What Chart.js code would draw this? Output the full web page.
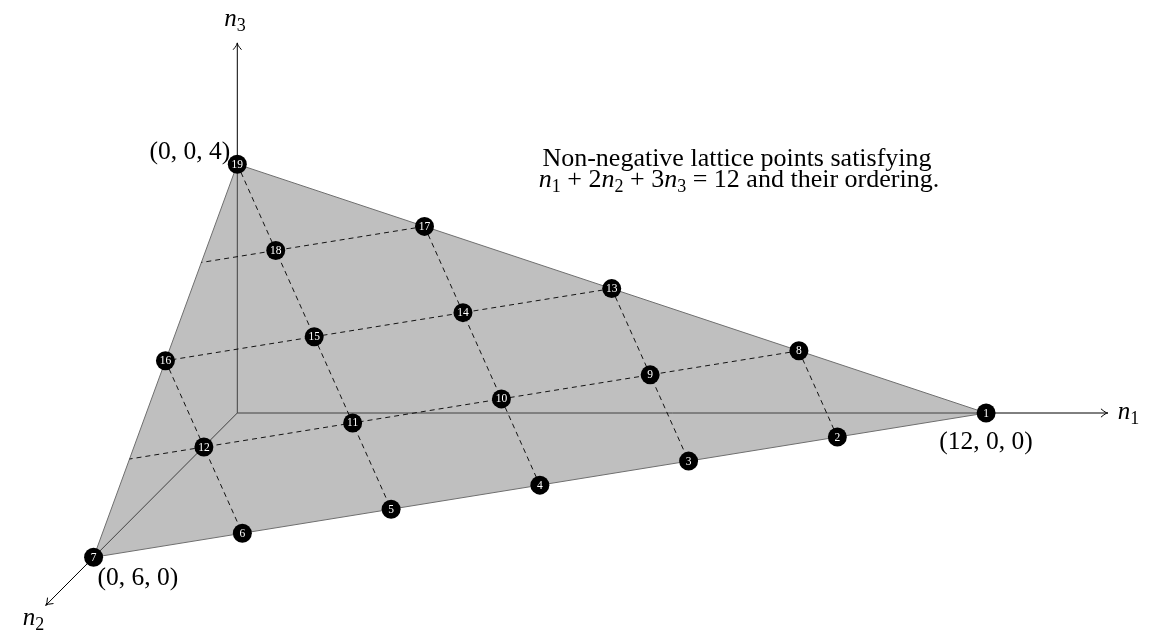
<!DOCTYPE html>
<html><head><meta charset="utf-8">
<script src="https://cdn.jsdelivr.net/npm/chart.js@4.4.1/dist/chart.umd.min.js"></script>
<style>html,body{margin:0;padding:0;background:#fff}#wrap{width:1149px;height:633px;position:relative}</style>
</head><body><div id="wrap"><canvas id="c"></canvas></div>
<script>
// Lattice points (n1, n2, n3) with n1 + 2n2 + 3n3 = 12, in their ordering
const orderLabels = [1,2,3,4,5,6,7,8,9,10,11,12,13,14,15,16,17,18,19];
const n1 = [12,10,8,6,4,2,0, 9,7,5,3,1, 6,4,2,0, 3,1, 0];
const n2 = [ 0, 1,2,3,4,5,6, 0,1,2,3,4, 0,1,2,3, 0,1, 0];
const n3 = [ 0, 0,0,0,0,0,0, 1,1,1,1,1, 2,2,2,2, 3,3, 4];
// Triangle vertices (plane cut by the positive octant)
const vertices = [[12,0,0],[0,6,0],[0,0,4]];
const vertexLabels = ['(12, 0, 0)','(0, 6, 0)','(0, 0, 4)'];
// Dashed level lines n3 = const (from n2 = 0 edge to n1 = 0 edge)
const levelLines = [[[9,0,1],[0,4.5,1]],[[6,0,2],[0,3,2]],[[3,0,3],[0,1.5,3]]];
// Dashed lines n1 - n2 = const, as pairs of point numbers
const diagLines = [[8,2],[13,3],[17,4],[19,5],[16,6]];
// Axis tips
const axisTips = [[13.95,0,0],[0,8,0],[0,0,5.95]];
const axisNames = ['1','2','3'];
const titleLine1 = 'Non-negative lattice points satisfying';

// oblique projection of lattice coordinates onto the page plane
const E1=[62.4,0], E2=[-23.95,-24.05], E3=[0,62.2];
function proj(p){return {x:p[0]*E1[0]+p[1]*E2[0]+p[2]*E3[0], y:p[0]*E1[1]+p[1]*E2[1]+p[2]*E3[1]};}
const pts = n1.map((v,i)=>proj([v,n2[i],n3[i]]));
const ptOf = k => [n1[k-1],n2[k-1],n3[k-1]];

const datasets = [];
datasets.push({label:'points',data:pts,showLine:false,pointRadius:9.5,pointHoverRadius:9.5,pointBackgroundColor:'#000',pointBorderColor:'#000',pointBorderWidth:0,order:0});
levelLines.forEach(l=>datasets.push({data:l.map(proj),showLine:true,borderColor:'#000',borderWidth:0.9,borderDash:[5,4],pointRadius:0,fill:false,order:1}));
diagLines.forEach(l=>datasets.push({data:l.map(k=>proj(ptOf(k))),showLine:true,borderColor:'#000',borderWidth:0.9,borderDash:[5,4],pointRadius:0,fill:false,order:1}));
datasets.push({label:'triangle',data:[...vertices,vertices[0]].map(proj),showLine:true,borderColor:'#6e6e6e',borderWidth:1,pointRadius:0,fill:'shape',backgroundColor:'rgba(128,128,128,0.5)',order:3});
axisTips.forEach(t=>datasets.push({data:[proj([0,0,0]),proj(t)],showLine:true,borderColor:'#000',borderWidth:1,pointRadius:0,fill:false,order:4}));

const SERIF='"Liberation Serif", "DejaVu Serif", serif';
const overlay = {
  id:'overlay',
  afterDatasetsDraw(chart){
    const ctx=chart.ctx, xs=chart.scales.x, ys=chart.scales.y;
    const px = p=>{const q=proj(p);return [xs.getPixelForValue(q.x),ys.getPixelForValue(q.y)];};
    ctx.save();
    // point numbers
    const meta=chart.getDatasetMeta(0);
    ctx.fillStyle='#fff';ctx.textAlign='center';ctx.textBaseline='middle';
    meta.data.forEach((el,i)=>{
      const s=String(orderLabels[i]);
      ctx.font='11.5px '+SERIF;
      ctx.fillText(s,el.x,el.y+0.5);
    });
    // arrowheads
    ctx.strokeStyle='#000';ctx.lineWidth=1;
    axisTips.forEach(t=>{
      const [x1,y1]=px([0,0,0]), [x2,y2]=px(t);
      const a=Math.atan2(y2-y1,x2-x1), L=8, w=0.55;
      ctx.beginPath();
      ctx.moveTo(x2-L*Math.cos(a-w),y2-L*Math.sin(a-w));
      ctx.quadraticCurveTo(x2-2*Math.cos(a),y2-2*Math.sin(a),x2,y2);
      ctx.quadraticCurveTo(x2-2*Math.cos(a),y2-2*Math.sin(a),x2-L*Math.cos(a+w),y2-L*Math.sin(a+w));
      ctx.stroke();
    });
    // axis names
    ctx.fillStyle='#000';
    const axName=(x,y,sub)=>{
      ctx.textAlign='left';ctx.textBaseline='alphabetic';
      ctx.font='italic 25px '+SERIF;
      ctx.fillText('n',x,y);
      const w=ctx.measureText('n').width;
      ctx.font='18px '+SERIF;
      ctx.fillText(sub,x+w,y+5);
    };
    let [ax,ay]=px(axisTips[0]); axName(ax+10,ay+6,axisNames[0]);
    [ax,ay]=px(axisTips[1]); axName(ax-23,ay+20,axisNames[1]);
    [ax,ay]=px(axisTips[2]); axName(ax-13,ay-17,axisNames[2]);
    // vertex labels
    ctx.font='25.5px '+SERIF;ctx.textBaseline='alphabetic';
    let [vx,vy]=px(vertices[0]); ctx.textAlign='center'; ctx.fillText(vertexLabels[0],vx,vy+36);
    [vx,vy]=px(vertices[1]); ctx.textAlign='left'; ctx.fillText(vertexLabels[1],vx+4,vy+28);
    [vx,vy]=px(vertices[2]); ctx.textAlign='right'; ctx.fillText(vertexLabels[2],vx-7,vy-5);
    // title
    ctx.font='26px '+SERIF;
    ctx.textAlign='center';
    ctx.fillText(titleLine1,737,166);
    // second line with italic n and subscripts
    const parts=[['i','n'],['s','1'],['r',' + 2'],['i','n'],['s','2'],['r',' + 3'],['i','n'],['s','3'],['r',' = 12 and their ordering.']];
    const fontFor=t=>t==='i'?'italic 26px '+SERIF:t==='s'?'18px '+SERIF:'26px '+SERIF;
    let total=0; parts.forEach(p=>{ctx.font=fontFor(p[0]);total+=ctx.measureText(p[1]).width;});
    let x=739-total/2; ctx.textAlign='left';
    parts.forEach(p=>{ctx.font=fontFor(p[0]);ctx.fillText(p[1],x,p[0]==='s'?192:187);x+=ctx.measureText(p[1]).width;});
    ctx.restore();
  }
};

new Chart(document.getElementById('c'),{
  type:'scatter',
  data:{datasets},
  options:{
    responsive:true,maintainAspectRatio:false,animation:false,
    layout:{padding:0,autoPadding:false},
    plugins:{legend:{display:false},tooltip:{enabled:false},title:{display:false}},
    events:[],
    scales:{
      x:{type:'linear',min:-237.3,max:911.7,display:false},
      y:{type:'linear',min:-220,max:413,display:false}
    }
  },
  plugins:[overlay]
});
</script></body></html>
